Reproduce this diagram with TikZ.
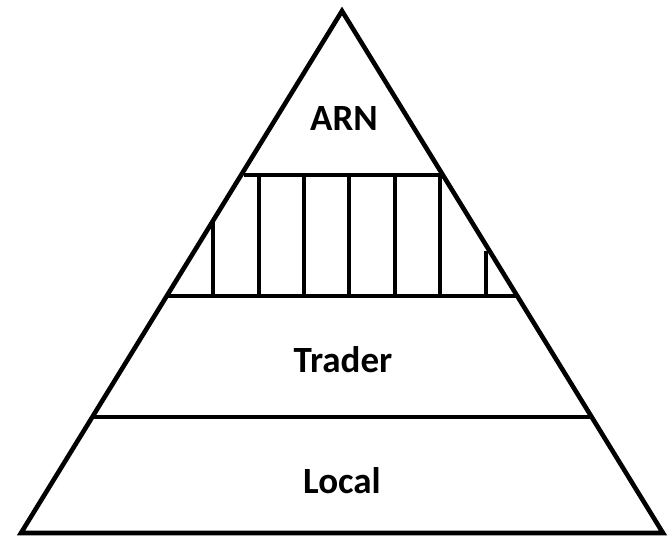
\documentclass[tikz,border=0pt]{standalone}
\usepackage{fontspec}
\setmainfont{Carlito}
\begin{document}
\begin{tikzpicture}[x=1pt,y=-1pt,
  edge/.style={line width=4.6pt,line join=miter},
  layerlabel/.style={anchor=base,font=\bfseries\fontsize{37}{44}\selectfont,inner sep=0pt}]
\useasboundingbox (0,0) rectangle (670,538);
% outer triangle
\coordinate (apex) at (342,11);
\coordinate (bl) at (21,533);
\coordinate (br) at (663,533);
\draw[edge] (apex) -- (br) -- (bl) -- cycle;
% layer dividers
\draw[edge] (244,175) -- (440,175);
\draw[edge] (167,296) -- (517,296);
\draw[edge] (92,417) -- (592,417);
% vertical hatching of the second layer
\draw[edge] (213,220) -- (213,296);
\foreach \x in {259,304,349,395,440}
  \draw[edge] (\x,175) -- (\x,296);
\draw[edge] (486,251) -- (486,296);
% labels
\node[layerlabel] (arn) at (344,130) {ARN};
\node[layerlabel] (trader) at (343,372) {Trader};
\node[layerlabel] (local) at (342,493) {Local};
\end{tikzpicture}
\end{document}
